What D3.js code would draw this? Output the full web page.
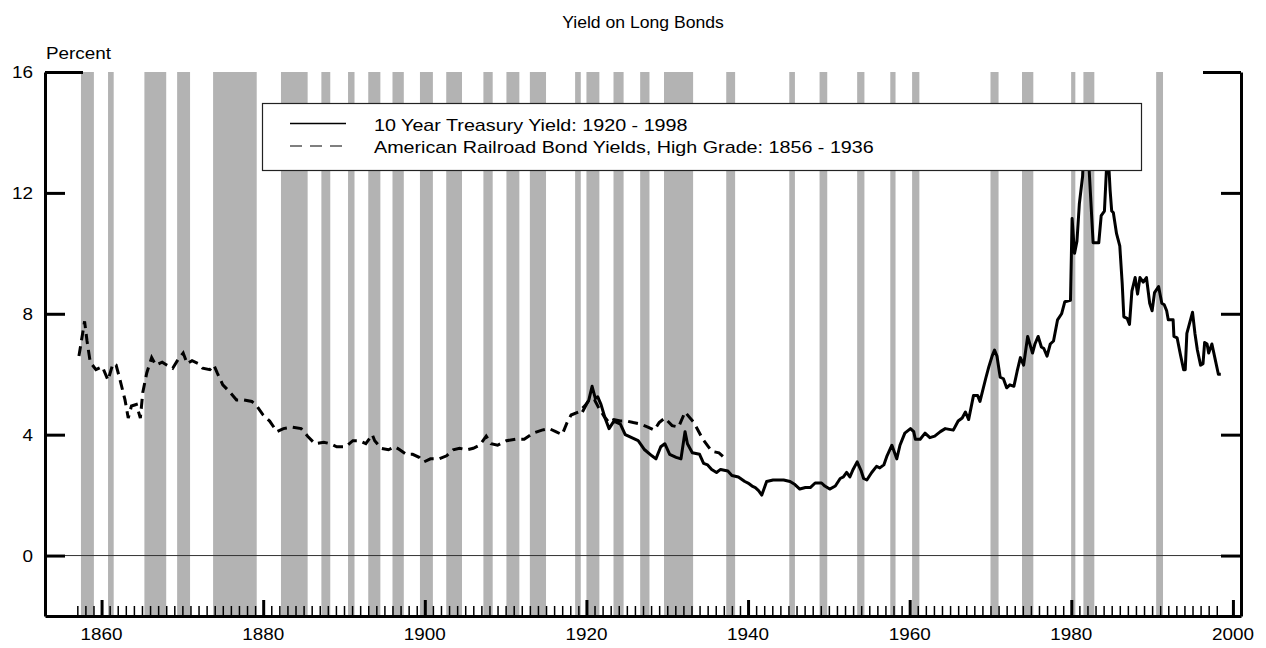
<!DOCTYPE html>
<html>
<head>
<meta charset="utf-8">
<script src="https://cdn.jsdelivr.net/npm/d3@7"></script>
<style>
  body { margin: 0; background: #fff; }
  text { font-family: "Liberation Sans", Arial, sans-serif; fill: #000; }
</style>
</head>
<body>
<div id="chart"></div>
<script>
// recession bands (decimal years)
const recessionStart = [1857.45, 1860.8, 1865.3, 1869.35, 1873.8, 1882.2, 1887.2, 1890.5, 1893.0, 1896.0, 1899.4, 1902.65, 1907.25, 1910.1, 1913.0, 1918.6, 1920.0, 1923.35, 1926.65, 1929.6, 1937.3, 1945.1, 1948.85, 1953.5, 1957.6, 1960.3, 1970.0, 1973.9, 1979.98, 1981.5, 1990.5];
const recessionEnd   = [1859.05, 1861.5, 1868.0, 1870.95, 1879.2, 1885.5, 1888.3, 1891.3, 1894.5, 1897.4, 1901.0, 1904.6, 1908.4, 1911.7, 1915.0, 1919.3, 1921.6, 1924.6, 1927.8, 1933.2, 1938.4, 1945.8, 1949.8, 1954.4, 1958.25, 1961.2, 1971.0, 1975.3, 1980.5, 1982.85, 1991.35];

// American Railroad Bond Yields, High Grade
const railYears = [1857.2, 1857.9, 1858.2, 1858.6, 1859.3, 1860.1, 1860.8, 1861.4, 1861.8, 1862.3, 1862.9, 1863.3, 1863.7, 1864.3, 1864.8, 1865.1, 1865.6, 1866.2, 1866.7, 1867.5, 1868.1, 1868.8, 1869.5, 1870.1, 1870.6, 1871.2, 1872.0, 1872.5, 1873.4, 1873.9, 1874.3, 1875.0, 1875.9, 1876.7, 1877.5, 1878.6, 1879.2, 1880.0, 1880.8, 1881.7, 1882.5, 1883.6, 1884.7, 1885.5, 1886.4, 1887.5, 1888.3, 1889.1, 1890.2, 1891.1, 1891.9, 1892.7, 1893.5, 1893.8, 1894.6, 1895.5, 1896.3, 1896.9, 1897.7, 1898.5, 1899.3, 1899.9, 1900.7, 1901.8, 1902.7, 1903.5, 1904.3, 1905.2, 1906.0, 1906.8, 1907.6, 1908.2, 1909.0, 1910.1, 1911.2, 1912.3, 1913.4, 1914.5, 1915.4, 1916.2, 1917.0, 1917.6, 1918.1, 1919.0, 1919.8, 1920.5, 1921.0, 1921.5, 1922.2, 1922.8, 1923.4, 1924.2, 1925.0, 1925.8, 1926.7, 1927.6, 1928.4, 1929.0, 1929.7, 1930.6, 1931.4, 1932.2, 1933.3, 1934.4, 1935.5, 1936.4, 1937.2];
const railYields = [6.6, 7.75, 7.1, 6.4, 6.15, 6.25, 5.8, 6.35, 6.3, 5.8, 5.15, 4.55, 4.95, 5.0, 4.55, 5.4, 6.05, 6.55, 6.3, 6.4, 6.3, 6.2, 6.5, 6.7, 6.35, 6.45, 6.35, 6.2, 6.15, 6.3, 6.05, 5.65, 5.4, 5.15, 5.15, 5.1, 4.95, 4.65, 4.45, 4.1, 4.2, 4.25, 4.2, 3.95, 3.7, 3.75, 3.7, 3.6, 3.6, 3.8, 3.8, 3.7, 4.0, 3.8, 3.55, 3.5, 3.6, 3.5, 3.35, 3.35, 3.25, 3.1, 3.2, 3.2, 3.3, 3.5, 3.55, 3.5, 3.55, 3.65, 3.95, 3.7, 3.65, 3.8, 3.85, 3.85, 4.05, 4.15, 4.2, 4.1, 4.0, 4.4, 4.65, 4.75, 4.95, 5.2, 5.15, 4.9, 4.6, 4.4, 4.5, 4.45, 4.45, 4.4, 4.35, 4.25, 4.15, 4.4, 4.55, 4.3, 4.25, 4.75, 4.4, 3.85, 3.45, 3.4, 3.2];

// 10 Year Treasury Yield
const treasuryYears = [1919.5, 1920.3, 1920.7, 1921.1, 1921.4, 1921.8, 1922.3, 1922.8, 1923.4, 1924.2, 1924.8, 1925.6, 1926.4, 1927.2, 1928.1, 1928.6, 1929.2, 1929.7, 1930.3, 1931.1, 1931.7, 1932.2, 1932.5, 1933.1, 1934.0, 1934.5, 1935.0, 1935.5, 1936.1, 1936.6, 1937.5, 1938.0, 1938.8, 1939.6, 1940.0, 1940.5, 1940.9, 1941.3, 1941.7, 1942.3, 1943.1, 1944.4, 1945.2, 1945.8, 1946.4, 1947.1, 1947.7, 1948.3, 1949.1, 1949.5, 1950.1, 1950.8, 1951.4, 1951.8, 1952.2, 1952.6, 1953.0, 1953.5, 1954.0, 1954.3, 1954.7, 1955.3, 1955.9, 1956.3, 1956.8, 1957.2, 1957.8, 1958.2, 1958.4, 1958.8, 1959.4, 1960.1, 1960.5, 1960.7, 1961.3, 1961.9, 1962.5, 1963.1, 1963.8, 1964.4, 1965.4, 1966.0, 1966.5, 1966.9, 1967.3, 1967.9, 1968.4, 1968.7, 1969.4, 1969.8, 1970.2, 1970.5, 1970.8, 1971.2, 1971.6, 1972.0, 1972.4, 1972.9, 1973.3, 1973.7, 1974.1, 1974.6, 1975.2, 1975.5, 1975.9, 1976.3, 1976.6, 1977.0, 1977.4, 1977.8, 1978.3, 1978.8, 1979.2, 1979.9, 1980.1, 1980.4, 1980.7, 1981.0, 1981.4, 1981.7, 1982.1, 1982.7, 1983.4, 1983.7, 1984.1, 1984.5, 1984.8, 1985.0, 1985.2, 1985.6, 1986.0, 1986.3, 1986.5, 1986.9, 1987.2, 1987.5, 1987.9, 1988.2, 1988.5, 1988.9, 1989.3, 1989.7, 1990.0, 1990.3, 1990.8, 1991.2, 1991.5, 1991.8, 1992.0, 1992.6, 1992.7, 1993.1, 1993.5, 1993.9, 1994.1, 1994.3, 1994.6, 1995.0, 1995.3, 1995.6, 1996.0, 1996.3, 1996.5, 1996.8, 1997.0, 1997.4, 1997.8, 1998.2, 1998.5];
const treasuryYields = [4.75, 5.15, 5.6, 5.2, 5.25, 5.0, 4.55, 4.2, 4.45, 4.35, 4.0, 3.9, 3.8, 3.5, 3.3, 3.2, 3.6, 3.7, 3.35, 3.25, 3.2, 4.1, 3.7, 3.4, 3.35, 3.05, 3.0, 2.85, 2.75, 2.85, 2.8, 2.65, 2.6, 2.45, 2.4, 2.3, 2.25, 2.15, 2.0, 2.45, 2.5, 2.5, 2.45, 2.35, 2.2, 2.25, 2.25, 2.4, 2.4, 2.3, 2.2, 2.3, 2.55, 2.6, 2.75, 2.6, 2.85, 3.1, 2.8, 2.55, 2.5, 2.75, 2.95, 2.9, 3.0, 3.3, 3.65, 3.35, 3.2, 3.65, 4.05, 4.2, 4.1, 3.85, 3.85, 4.05, 3.9, 3.95, 4.1, 4.2, 4.15, 4.45, 4.55, 4.75, 4.5, 5.3, 5.3, 5.1, 5.85, 6.25, 6.6, 6.8, 6.6, 5.9, 5.85, 5.55, 5.65, 5.6, 6.1, 6.55, 6.3, 7.25, 6.7, 7.0, 7.25, 6.9, 6.85, 6.6, 7.0, 7.1, 7.8, 8.0, 8.4, 8.45, 11.15, 10.0, 10.4, 11.65, 12.55, 14.5, 13.3, 10.35, 10.35, 11.25, 11.4, 13.6, 12.1, 11.4, 11.35, 10.65, 10.25, 9.0, 7.9, 7.85, 7.65, 8.75, 9.2, 8.65, 9.2, 9.05, 9.2, 8.35, 8.1, 8.7, 8.9, 8.35, 8.3, 8.1, 7.8, 7.8, 7.25, 7.2, 6.65, 6.15, 6.15, 7.35, 7.65, 8.05, 7.35, 6.8, 6.3, 6.35, 7.05, 7.0, 6.7, 7.0, 6.5, 6.0, 6.0];

const yTicks = [0, 4, 8, 12, 16];
const xMajorTicks = [1860, 1880, 1900, 1920, 1940, 1960, 1980, 2000];
const xMinorTicks = d3.range(1857, 1999).filter(d => d % 20 !== 0);
const legendLabels = ["10 Year Treasury Yield: 1920 - 1998", "American Railroad Bond Yields, High Grade: 1856 - 1936"];

const width = 1266, height = 648;
const stretch = 1.18;   // text in the original is a bit wide

const x = d3.scaleLinear().domain([1853, 2001]).range([45, 1241]);
const y = d3.scaleLinear().domain([-2, 16]).range([616, 72]);

const svg = d3.select("#chart").append("svg")
  .attr("width", width)
  .attr("height", height);

// recession shading
svg.append("g").selectAll("rect")
  .data(recessionStart.map((s, i) => [s, recessionEnd[i]]))
  .enter().append("rect")
  .attr("x", d => x(d[0]))
  .attr("width", d => x(d[1]) - x(d[0]))
  .attr("y", y(16))
  .attr("height", y(-2) - y(16))
  .attr("fill", "#b3b3b3");

// zero line
svg.append("line")
  .attr("x1", x.range()[0]).attr("x2", x.range()[1])
  .attr("y1", y(0)).attr("y2", y(0))
  .attr("stroke", "#333").attr("stroke-width", 1);

const line = d3.line().x(d => x(d[0])).y(d => y(d[1]));

svg.append("path")
  .datum(railYears.map((d, i) => [d, railYields[i]]))
  .attr("d", line)
  .attr("fill", "none")
  .attr("stroke", "#000")
  .attr("stroke-width", 3)
  .attr("stroke-dasharray", "10,6");

svg.append("path")
  .datum(treasuryYears.map((d, i) => [d, treasuryYields[i]]))
  .attr("d", line)
  .attr("fill", "none")
  .attr("stroke", "#000")
  .attr("stroke-width", 3)
  .attr("stroke-linejoin", "round");

// legend box drawn over the lines
const legend = svg.append("g");
legend.append("rect")
  .attr("x", 262.5).attr("y", 103.5)
  .attr("width", 879).attr("height", 67)
  .attr("fill", "#fff").attr("stroke", "#222").attr("stroke-width", 1.2);
legend.append("line")
  .attr("x1", 290).attr("x2", 346).attr("y1", 123.5).attr("y2", 123.5)
  .attr("stroke", "#000").attr("stroke-width", 1.5);
legend.append("line")
  .attr("x1", 290).attr("x2", 346).attr("y1", 146).attr("y2", 146)
  .attr("stroke", "#555").attr("stroke-width", 1.5)
  .attr("stroke-dasharray", "12,8");
legend.selectAll("text.leg")
  .data(legendLabels)
  .enter().append("text")
  .attr("class", "leg")
  .attr("transform", (d, i) => "translate(374," + (130.5 + i * 22) + ") scale(1.16,1)")
  .style("font-size", "17px")
  .text(d => d);

// axes
function styleAxis(g, w) {
  g.selectAll("path, line").attr("stroke", "#000").attr("stroke-width", w);
}

const leftAxis = svg.append("g")
  .attr("transform", "translate(" + x.range()[0] + ",0)")
  .call(d3.axisRight(y).tickValues(yTicks.slice(0, 4)).tickSize(20).tickSizeOuter(0).tickFormat(""));
styleAxis(leftAxis, 3);
svg.append("g")
  .attr("transform", "translate(" + x.range()[0] + ",0)")
  .call(d3.axisRight(y).tickValues([16]).tickSize(38).tickSizeOuter(0).tickFormat(""))
  .call(g => g.select(".domain").remove())
  .call(g => styleAxis(g, 3));

const rightAxis = svg.append("g")
  .attr("transform", "translate(" + x.range()[1] + ",0)")
  .call(d3.axisLeft(y).tickValues(yTicks.slice(0, 4)).tickSize(20).tickSizeOuter(0).tickFormat(""));
styleAxis(rightAxis, 3);
svg.append("g")
  .attr("transform", "translate(" + x.range()[1] + ",0)")
  .call(d3.axisLeft(y).tickValues([16]).tickSize(38).tickSizeOuter(0).tickFormat(""))
  .call(g => g.select(".domain").remove())
  .call(g => styleAxis(g, 3));

// y labels
svg.append("g").selectAll("text")
  .data(yTicks)
  .enter().append("text")
  .attr("text-anchor", "end")
  .attr("transform", d => "translate(33," + (y(d) + 6) + ") scale(" + stretch + ",1)")
  .style("font-size", "16px")
  .text(d => d);

// bottom axis: minor ticks, then major ticks
const minorAxis = svg.append("g")
  .attr("transform", "translate(0," + y(-2) + ")")
  .call(d3.axisTop(x).tickValues(xMinorTicks).tickSize(10).tickSizeOuter(0).tickFormat(""));
minorAxis.selectAll("line").attr("stroke", "#000").attr("stroke-width", 1.5);
minorAxis.select(".domain").attr("stroke", "#000").attr("stroke-width", 3);

const majorAxis = svg.append("g")
  .attr("transform", "translate(0," + y(-2) + ")")
  .call(d3.axisTop(x).tickValues(xMajorTicks).tickSize(16).tickSizeOuter(0).tickFormat(""));
majorAxis.select(".domain").remove();
majorAxis.selectAll("line").attr("stroke", "#000").attr("stroke-width", 3);

svg.append("g").selectAll("text")
  .data(xMajorTicks)
  .enter().append("text")
  .attr("text-anchor", "middle")
  .attr("transform", d => "translate(" + x(d) + ",640) scale(" + stretch + ",1)")
  .style("font-size", "16px")
  .text(d => d);

// titles
svg.append("text")
  .attr("text-anchor", "middle")
  .attr("transform", "translate(643,28) scale(1.1,1)")
  .style("font-size", "16px")
  .text("Yield on Long Bonds");

svg.append("text")
  .attr("transform", "translate(46,59) scale(" + stretch + ",1)")
  .style("font-size", "16px")
  .text("Percent");
</script>
</body>
</html>
